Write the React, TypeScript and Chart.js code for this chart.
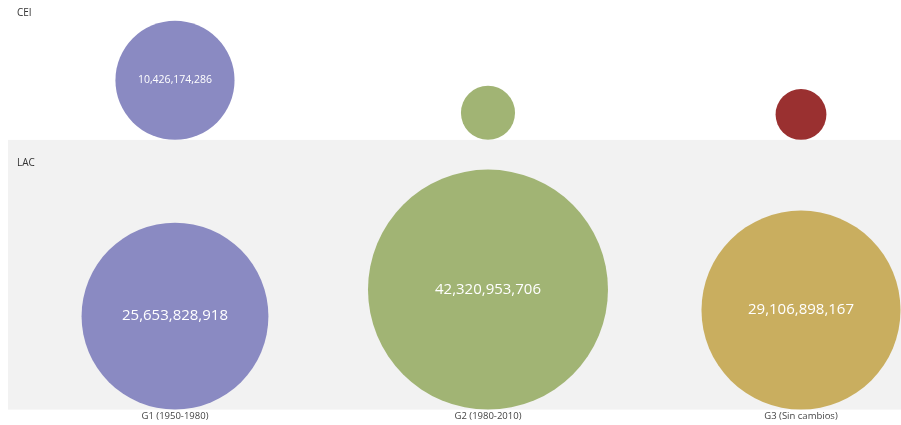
import React, { useEffect, useRef } from 'react';
import { Chart, registerables } from 'chart.js';

Chart.register(...registerables);

// ---- data ----
const categories = ['G1 (1950-1980)', 'G2 (1980-2010)', 'G3 (Sin cambios)'];
const groups = ['CEI', 'LAC'];
const ceiValues = [10426174286, 2150000000, 1900000000];
const lacValues = [25653828918, 42320953706, 29106898167];
const ceiColors = ['#8a8ac2', '#a1b474', '#9a3030'];
const lacColors = ['#8a8ac2', '#a1b474', '#c9ae5f'];

// ---- layout constants ----
const MAX_RADIUS = 120;
const ROW_TOP = [0, 14];
const ROW_BASE = [14, 41];
const X_MIN = -0.5335;
const X_MAX = 2.3195;
const FONT = '"Open Sans", "Noto Sans", sans-serif';

const allValues = [...ceiValues, ...lacValues];
const maxValue = Math.max(...allValues);
const radiusOf = (v: number) => MAX_RADIUS * Math.sqrt(v / maxValue);

const bottomAlign = {
  id: 'bottomAlign',
  afterDatasetsUpdate(chart: any) {
    chart.data.datasets.forEach((_: any, di: number) => {
      const meta = chart.getDatasetMeta(di);
      meta.data.forEach((el: any) => {
        el.y = el.y - el.options.radius;
      });
    });
  },
};

const bands = {
  id: 'bands',
  beforeDatasetsDraw(chart: any) {
    const { ctx, chartArea, scales } = chart;
    const y = scales.y;
    ctx.save();
    groups.forEach((g, i) => {
      const top = y.getPixelForValue(ROW_TOP[i]);
      const bottom = y.getPixelForValue(ROW_BASE[i]);
      if (i === 1) {
        ctx.fillStyle = '#f2f2f2';
        ctx.fillRect(chartArea.left, top, chartArea.right - chartArea.left, bottom - top);
      }
      ctx.fillStyle = '#333333';
      ctx.font = `10px ${FONT}`;
      ctx.textAlign = 'left';
      ctx.textBaseline = 'middle';
      ctx.fillText(g, chartArea.left + 9, top + (i === 0 ? 13 : 23));
    });
    ctx.restore();
  },
};

const valueLabels = {
  id: 'valueLabels',
  afterDatasetsDraw(chart: any) {
    const { ctx } = chart;
    ctx.save();
    chart.data.datasets.forEach((ds: any, di: number) => {
      const meta = chart.getDatasetMeta(di);
      meta.data.forEach((el: any, i: number) => {
        const r = el.options.radius;
        if (r < 40) return;
        const size = r > 80 ? 15 : 10.5;
        ctx.font = `${size}px ${FONT}`;
        ctx.fillStyle = '#ffffff';
        ctx.textAlign = 'center';
        ctx.textBaseline = 'middle';
        ctx.fillText(ds.data[i].v.toLocaleString('en-US'), el.x, el.y);
      });
    });
    ctx.restore();
  },
};

export default function App() {
  const ref = useRef<HTMLCanvasElement | null>(null);
  useEffect(() => {
    document.body.style.margin = '0';
    const makeData = (vals: number[], row: number) =>
      vals.map((v, i) => ({ x: i, y: ROW_BASE[row], v }));
    const chart = new Chart(ref.current as HTMLCanvasElement, {
      type: 'bubble',
      data: {
        datasets: [
          {
            label: groups[0],
            data: makeData(ceiValues, 0) as any,
            backgroundColor: ceiColors,
            borderWidth: 0,
            radius: (c: any) => radiusOf(c.raw.v),
            clip: false,
          } as any,
          {
            label: groups[1],
            data: makeData(lacValues, 1) as any,
            backgroundColor: lacColors,
            borderWidth: 0,
            radius: (c: any) => radiusOf(c.raw.v),
            clip: false,
          } as any,
        ],
      },
      options: {
        animation: false,
        responsive: true,
        maintainAspectRatio: false,
        layout: { autoPadding: false, padding: { left: 8, top: 0, right: 0, bottom: 2 } },
        plugins: { legend: { display: false }, tooltip: { enabled: false } },
        scales: {
          x: {
            type: 'linear',
            min: X_MIN,
            max: X_MAX,
            afterBuildTicks: (scale: any) => {
              scale.ticks = categories.map((_, i) => ({ value: i }));
            },
            grid: { display: false, drawTicks: false },
            border: { display: false },
            ticks: {
              autoSkip: false,
              maxRotation: 0,
              padding: 1,
              color: '#444444',
              font: { family: FONT, size: 9.5 },
              callback: (v: any) => categories[v as number] ?? '',
            },
          },
          y: {
            type: 'linear',
            reverse: true,
            min: ROW_TOP[0],
            max: ROW_BASE[1],
            display: false,
          },
        },
      },
      plugins: [bottomAlign, bands, valueLabels],
    });
    return () => chart.destroy();
  }, []);
  return (
    <div style={{ width: 901, height: 425, position: 'relative' }}>
      <canvas ref={ref} />
    </div>
  );
}
